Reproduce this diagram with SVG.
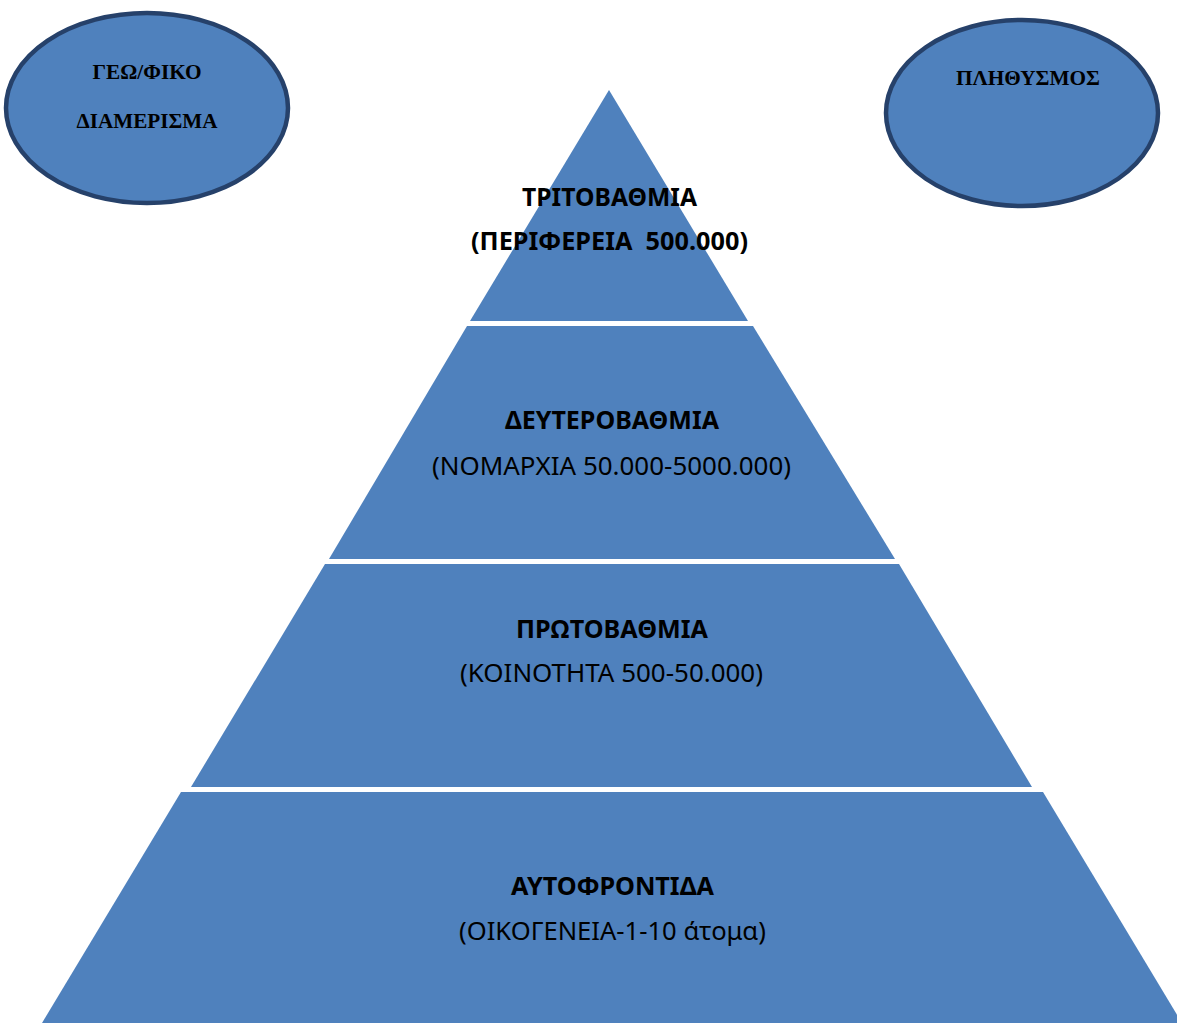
<svg xmlns="http://www.w3.org/2000/svg" width="1177" height="1023" viewBox="0 0 1177 1023">
<style>
.layer{fill:#4F81BD;stroke:none}
.oval{fill:#4F81BD;stroke:#26416A;stroke-width:4.5}
.ot{font-family:"Liberation Serif","Times New Roman",serif;font-weight:bold;font-size:21px;fill:#000;text-anchor:middle}
.tb{font-family:"Noto Sans","Open Sans",sans-serif;font-weight:bold;font-size:25px;fill:#000;text-anchor:middle}
.tn{font-family:"Noto Sans","Open Sans",sans-serif;font-weight:normal;font-size:25px;fill:#000;text-anchor:middle}
</style>
<rect width="1177" height="1023" fill="#fff"/>
<g id="geo">
<ellipse class="oval" cx="147" cy="108" rx="141" ry="95"/>
<text class="ot" x="147" y="79" textLength="109" lengthAdjust="spacingAndGlyphs">ΓΕΩ/ΦΙΚΟ</text>
<text class="ot" x="147" y="128" textLength="141" lengthAdjust="spacingAndGlyphs">ΔΙΑΜΕΡΙΣΜΑ</text>
</g>
<g id="population">
<ellipse class="oval" cx="1022" cy="113" rx="136" ry="93"/>
<text class="ot" x="1028" y="85" textLength="144" lengthAdjust="spacingAndGlyphs">ΠΛΗΘΥΣΜΟΣ</text>
</g>
<g id="tritovathmia">
<polygon class="layer" points="609,90 748,321 470,321"/>
<text class="tb" x="609.5" y="206" textLength="175" lengthAdjust="spacingAndGlyphs">ΤΡΙΤΟΒΑΘΜΙΑ</text>
<text class="tb" x="609.5" y="250" textLength="277" lengthAdjust="spacingAndGlyphs" xml:space="preserve">(ΠΕΡΙΦΕΡΕΙΑ  500.000)</text>
</g>
<g id="deuterovathmia">
<polygon class="layer" points="467,326 753,326 895,559 329,559"/>
<text class="tb" x="612" y="429" textLength="214" lengthAdjust="spacingAndGlyphs">ΔΕΥΤΕΡΟΒΑΘΜΙΑ</text>
<text class="tn" x="611.5" y="475" textLength="359" lengthAdjust="spacingAndGlyphs">(ΝΟΜΑΡΧΙΑ 50.000-5000.000)</text>
</g>
<g id="protovathmia">
<polygon class="layer" points="325,564 899,564 1032,787 191,787"/>
<text class="tb" x="612" y="638" textLength="192" lengthAdjust="spacingAndGlyphs">ΠΡΩΤΟΒΑΘΜΙΑ</text>
<text class="tn" x="611.5" y="682" textLength="303" lengthAdjust="spacingAndGlyphs">(ΚΟΙΝΟΤΗΤΑ 500-50.000)</text>
</g>
<g id="autofrontida">
<polygon class="layer" points="181,792 1043,792 1182,1023 42,1023"/>
<text class="tb" x="612.5" y="895" textLength="203" lengthAdjust="spacingAndGlyphs">ΑΥΤΟΦΡΟΝΤΙΔΑ</text>
<text class="tn" x="612.5" y="940" textLength="307" lengthAdjust="spacingAndGlyphs">(ΟΙΚΟΓΕΝΕΙΑ-1-10 άτομα)</text>
</g>
<g id="connectors"></g>
</svg>
